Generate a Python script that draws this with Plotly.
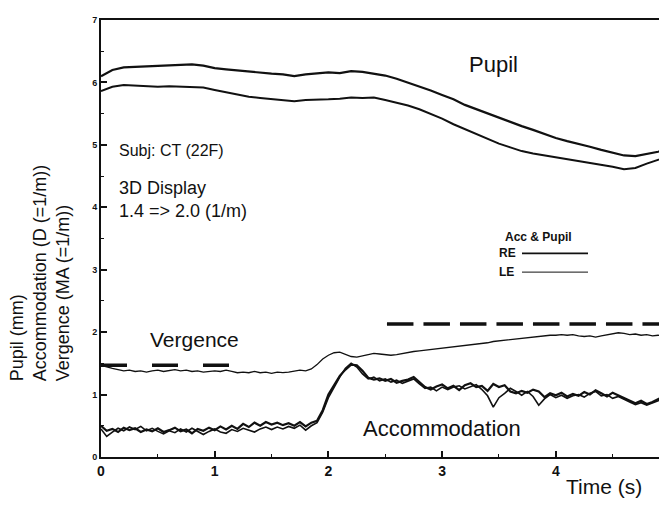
import plotly.graph_objects as go

# ---------------- data ----------------
pupil_t = [round(i * 0.1, 2) for i in range(51)]
pupil_re = [6.10, 6.20, 6.24, 6.25, 6.26, 6.27, 6.27, 6.29, 6.29, 6.27,
            6.23, 6.21, 6.19, 6.17, 6.16, 6.14, 6.13, 6.10, 6.13, 6.14,
            6.16, 6.15, 6.18, 6.17, 6.14, 6.11, 6.06, 6.00, 5.93, 5.87,
            5.80, 5.73, 5.64, 5.57, 5.50, 5.43, 5.36, 5.30, 5.24, 5.17,
            5.11, 5.06, 5.02, 4.97, 4.92, 4.88, 4.83, 4.82, 4.85, 4.89, 4.95]
pupil_le = [5.86, 5.93, 5.96, 5.95, 5.94, 5.93, 5.94, 5.93, 5.93, 5.92,
            5.88, 5.84, 5.81, 5.77, 5.75, 5.73, 5.72, 5.70, 5.72, 5.72,
            5.73, 5.74, 5.76, 5.75, 5.76, 5.72, 5.68, 5.63, 5.57, 5.50,
            5.42, 5.33, 5.25, 5.17, 5.09, 5.02, 4.96, 4.90, 4.86, 4.83,
            4.80, 4.78, 4.75, 4.72, 4.68, 4.65, 4.61, 4.63, 4.70, 4.76, 4.82]

t = [round(i * 0.05, 2) for i in range(101)]
acc_re = [0.50, 0.42, 0.45, 0.40, 0.47, 0.43, 0.46, 0.40, 0.44, 0.41,
          0.46, 0.40, 0.43, 0.47, 0.41, 0.44, 0.38, 0.45, 0.42, 0.47,
          0.43, 0.49, 0.44, 0.50, 0.45, 0.53, 0.48, 0.55, 0.50, 0.56,
          0.52, 0.55, 0.51, 0.54, 0.50, 0.56, 0.49, 0.55, 0.58, 0.75,
          1.00, 1.15, 1.30, 1.40, 1.48, 1.47, 1.38, 1.27, 1.24, 1.26,
          1.22, 1.25, 1.19, 1.22, 1.24, 1.28, 1.20, 1.12, 1.08, 1.13,
          1.16, 1.10, 1.14, 1.07, 1.15, 1.18, 1.12, 1.14, 1.06, 1.17,
          1.12, 1.15, 1.05, 1.02, 1.06, 1.03, 1.08, 1.05, 0.96, 1.02,
          0.99, 1.03, 0.97, 1.01, 0.98, 1.04, 1.00, 1.07, 1.02, 0.97,
          1.03, 0.99, 0.95, 0.91, 0.86, 0.90, 0.85, 0.88, 0.93, 0.97, 0.92]
acc_le = [0.45, 0.33, 0.40, 0.46, 0.42, 0.48, 0.44, 0.49, 0.42, 0.46,
          0.41, 0.37, 0.42, 0.39, 0.45, 0.40, 0.46, 0.41, 0.36, 0.41,
          0.45, 0.40, 0.38, 0.44, 0.41, 0.46, 0.43, 0.40, 0.45, 0.48,
          0.44, 0.48, 0.45, 0.49, 0.46, 0.51, 0.43, 0.50, 0.55, 0.72,
          0.95, 1.12, 1.28, 1.42, 1.50, 1.44, 1.33, 1.25, 1.28, 1.22,
          1.25, 1.20, 1.23, 1.18, 1.21, 1.25, 1.17, 1.10, 1.12, 1.06,
          1.12, 1.08, 1.12, 1.14, 1.09, 1.12, 1.16, 1.08, 0.98, 0.80,
          0.95, 1.02, 1.10, 1.05, 0.99, 1.05, 0.97, 0.83, 0.93, 1.00,
          0.95, 0.99, 0.94, 0.98, 1.00, 0.96, 1.02, 1.05, 0.98, 1.00,
          0.94, 0.97, 0.92, 0.88, 0.84, 0.87, 0.83, 0.86, 0.90, 0.94, 0.96]
vergence = [1.47, 1.44, 1.42, 1.40, 1.38, 1.39, 1.37, 1.38, 1.36, 1.38,
            1.39, 1.37, 1.38, 1.40, 1.38, 1.39, 1.37, 1.38, 1.36, 1.37,
            1.38, 1.37, 1.39, 1.37, 1.35, 1.36, 1.35, 1.37, 1.35, 1.36,
            1.34, 1.36, 1.35, 1.36, 1.37, 1.39, 1.38, 1.41, 1.48, 1.57,
            1.63, 1.67, 1.68, 1.65, 1.61, 1.60, 1.62, 1.64, 1.66, 1.65,
            1.64, 1.63, 1.64, 1.66, 1.67, 1.69, 1.70, 1.71, 1.73, 1.74,
            1.75, 1.76, 1.77, 1.77, 1.78, 1.80, 1.81, 1.82, 1.83, 1.85,
            1.86, 1.87, 1.88, 1.89, 1.91, 1.92, 1.93, 1.93, 1.94, 1.95,
            1.95, 1.96, 1.95, 1.96, 1.94, 1.93, 1.94, 1.92, 1.94, 1.96,
            1.97, 1.99, 1.98, 1.96, 1.97, 1.95, 1.96, 1.94, 1.95, 1.94, 1.94]

stim1_t = [0.0, 1.135]
stim1_v = [1.47, 1.47]
stim2_t = [2.515, 5.0]
stim2_v = [2.13, 2.13]

x_ticks = [0, 1, 2, 3, 4, 5]
y_ticks = [0, 1, 2, 3, 4, 5, 6, 7]

FONT = "Liberation Sans, Arial, Helvetica, sans-serif"
BLACK = "#111111"

# page has an 8px body margin; place plot so that x=0 -> 101px, y=0 -> 457px, y=7 -> 15px
OFF = 8
X0PX, XPU = 101.0, 113.7
Y0PX, YPU = 457.0, 63.14
XMAX = (667 - X0PX) / XPU


def dx(px):
    return (px - X0PX) / XPU


def dy(py):
    return (Y0PX - py) / YPU


def paper_x(px):
    return dx(px) / XMAX


def paper_y(py):
    return dy(py) / 7.0


fig = go.Figure()
fig.add_trace(go.Scatter(x=pupil_t, y=pupil_re, mode="lines", line=dict(color=BLACK, width=2.2)))
fig.add_trace(go.Scatter(x=pupil_t, y=pupil_le, mode="lines", line=dict(color=BLACK, width=2.0)))
fig.add_trace(go.Scatter(x=t, y=vergence, mode="lines", line=dict(color=BLACK, width=1.3)))
fig.add_trace(go.Scatter(x=t, y=acc_re, mode="lines", line=dict(color=BLACK, width=2.2)))
fig.add_trace(go.Scatter(x=t, y=acc_le, mode="lines", line=dict(color=BLACK, width=1.6)))
fig.add_trace(go.Scatter(x=stim1_t, y=stim1_v, mode="lines", line=dict(color=BLACK, width=3.5, dash="26px,25px")))
fig.add_trace(go.Scatter(x=stim2_t, y=stim2_v, mode="lines", line=dict(color=BLACK, width=3.5, dash="26.5px,10px")))

W, H = 667, 509
ml = X0PX - OFF
mt = (Y0PX - 7 * YPU) - OFF
mb = H - (Y0PX - OFF)
mr = W - (667 - OFF)

fig.update_layout(
    width=W, height=H,
    margin=dict(l=ml, r=mr, t=mt, b=mb, pad=0),
    paper_bgcolor="white", plot_bgcolor="white",
    showlegend=False,
    font=dict(family=FONT, color=BLACK),
)
fig.update_xaxes(
    range=[0, XMAX], showgrid=False, zeroline=False,
    showline=True, linecolor=BLACK, linewidth=2, mirror=True,
    tickmode="array", tickvals=x_ticks, ticktext=[str(v) for v in x_ticks],
    ticks="inside", ticklen=6, tickwidth=1.5, tickcolor=BLACK,
    tickfont=dict(size=14, family=FONT, weight=700, color=BLACK),
    minor=dict(dtick=0.5, tick0=0, ticks="inside", ticklen=3, tickwidth=1.2, tickcolor=BLACK),
)
fig.update_yaxes(
    range=[0, 7], showgrid=False, zeroline=False,
    showline=True, linecolor=BLACK, linewidth=2,
    tickmode="array", tickvals=y_ticks, ticktext=[str(v) for v in y_ticks],
    ticks="inside", ticklen=6, tickwidth=1.5, tickcolor=BLACK,
    tickfont=dict(size=9, family=FONT, weight=700, color=BLACK),
    minor=dict(dtick=0.5, tick0=0, ticks="inside", ticklen=3, tickwidth=1.2, tickcolor=BLACK),
)


def ann(text, px, py, size, xanchor="center", weight=400, align="center", **kw):
    fig.add_annotation(text=text, x=paper_x(px), y=paper_y(py), xref="paper", yref="paper",
                       showarrow=False, xanchor=xanchor, yanchor="middle", align=align,
                       font=dict(size=size, family=FONT, color=BLACK, weight=weight), **kw)


ann("Pupil", 493, 60, 22)
ann("Subj: CT (22F)", 117, 147, 16, xanchor="left")
ann("3D Display<br>1.4 => 2.0 (1/m)", 117, 197, 18, xanchor="left", align="left")
ann("Vergence", 194, 338, 21)
ann("Accommodation", 442, 428, 22)
ann("Time (s)", 604, 487, 21)
ann("Acc & Pupil", 538, 234, 12, weight=700)
ann("RE", 497, 251, 12, xanchor="left", weight=700)
ann("LE", 497, 270, 12, xanchor="left", weight=700)

fig.add_shape(type="line", xref="x", yref="y", x0=dx(522), x1=dx(588), y0=dy(251), y1=dy(251),
              line=dict(color=BLACK, width=1.8))
fig.add_shape(type="line", xref="x", yref="y", x0=dx(522), x1=dx(588), y0=dy(270), y1=dy(270),
              line=dict(color=BLACK, width=1.0))

# y-axis title: three rotated lines, bottom-aligned at ~383px
fig.add_annotation(text="Pupil (mm)<br>Accommodation (D (=1/m))<br>Vergence (MA (=1/m))",
                   x=paper_x(40), y=paper_y(383), xref="paper", yref="paper",
                   showarrow=False, textangle=-90, xanchor="center", yanchor="bottom", align="left",
                   font=dict(size=18, family=FONT, color=BLACK))

fig.write_html("out.html")
